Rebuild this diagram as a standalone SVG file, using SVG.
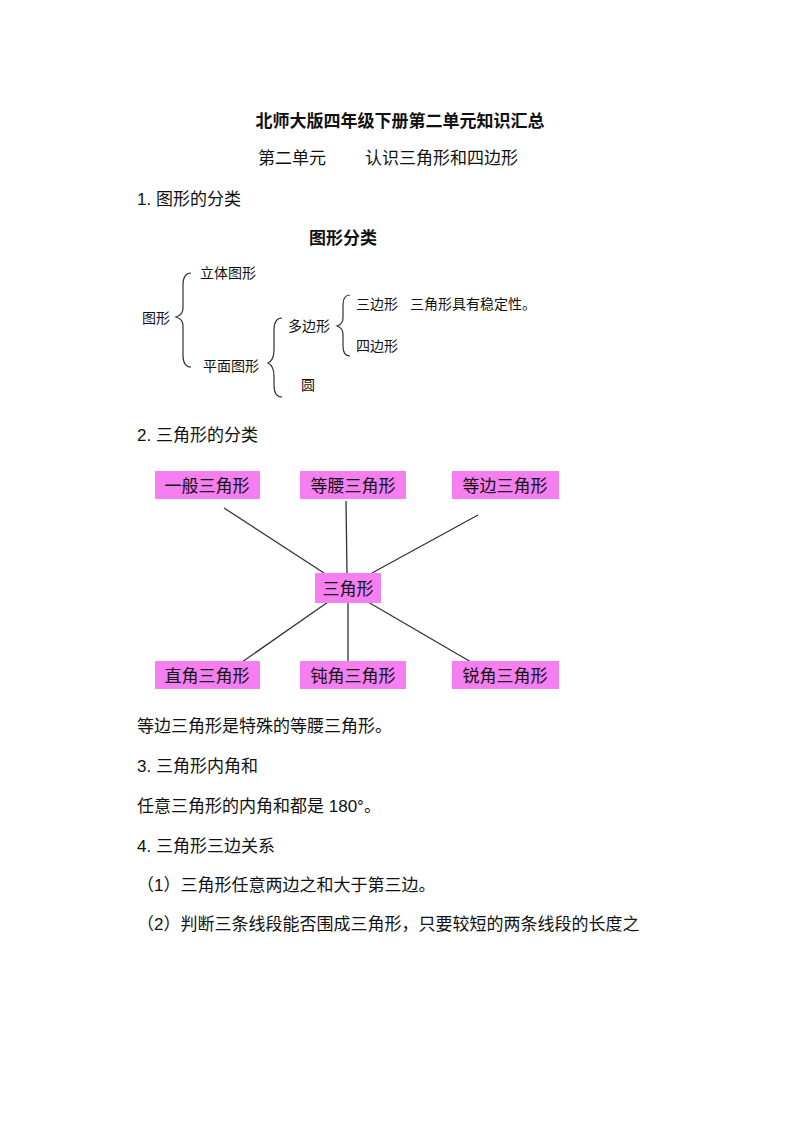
<svg xmlns="http://www.w3.org/2000/svg" width="800" height="1132" viewBox="0 0 800 1132">
<style>
text{font-family:"Liberation Sans","Noto Sans CJK SC",sans-serif;fill:#111}
.t{font-size:17px}
.s{font-size:14px}
.b{font-size:17px;font-weight:bold}
.box{fill:#f57ef0}
.br{fill:none;stroke:#333;stroke-width:1.2}
#connectors line{stroke:#333;stroke-width:1.3}
</style>
<rect width="800" height="1132" fill="#fff"/>
<text x="400" y="127" text-anchor="middle" class="b">北师大版四年级下册第二单元知识汇总</text>
<text x="258" y="164" class="t">第二单元</text>
<text x="365" y="164" class="t">认识三角形和四边形</text>
<text x="137" y="205" class="t">1. 图形的分类</text>
<text x="343" y="244" text-anchor="middle" class="t" font-weight="bold">图形分类</text>
<g id="tree">
<text x="142" y="323" class="s">图形</text>
<path class="br" d="M191,273 Q183,273 183,285 L183,308 Q183,315 176,317 Q183,319 183,326 L183,355 Q183,367 191,367"/>
<text x="200" y="278" class="s">立体图形</text>
<text x="203" y="371" class="s">平面图形</text>
<path class="br" d="M282,318 Q274,318 274,330 L274,350 Q274,360 268,363 Q274,366 274,376 L274,385 Q274,397 282,397"/>
<text x="288" y="331" class="s">多边形</text>
<text x="301" y="390" class="s">圆</text>
<path class="br" d="M350,295 Q343,295 343,305 L343,318 Q343,324 337,326 Q343,328 343,334 L343,346 Q343,356 350,356"/>
<text x="356" y="309" class="s">三边形</text>
<text x="410" y="309" class="s">三角形具有稳定性。</text>
<text x="356" y="351" class="s">四边形</text>
</g>
<text x="137" y="441" class="t">2. 三角形的分类</text>
<g id="connectors">
<line x1="224" y1="508" x2="324" y2="573"/>
<line x1="346" y1="501" x2="347" y2="573"/>
<line x1="478" y1="515" x2="372" y2="573"/>
<line x1="328" y1="602" x2="242" y2="662"/>
<line x1="348" y1="603" x2="348" y2="661"/>
<line x1="368" y1="602" x2="471" y2="662"/>
</g>
<g id="n1"><rect class="box" x="155" y="471" width="105" height="28"/><text x="207" y="492" text-anchor="middle" class="t">一般三角形</text></g>
<g id="n2"><rect class="box" x="300" y="471" width="106" height="28"/><text x="353" y="492" text-anchor="middle" class="t">等腰三角形</text></g>
<g id="n3"><rect class="box" x="452" y="471" width="107" height="28"/><text x="505" y="492" text-anchor="middle" class="t">等边三角形</text></g>
<g id="n0"><rect class="box" x="315" y="573" width="66" height="30"/><text x="348" y="595" text-anchor="middle" class="t">三角形</text></g>
<g id="n4"><rect class="box" x="155" y="661" width="105" height="28"/><text x="207" y="682" text-anchor="middle" class="t">直角三角形</text></g>
<g id="n5"><rect class="box" x="300" y="661" width="106" height="28"/><text x="353" y="682" text-anchor="middle" class="t">钝角三角形</text></g>
<g id="n6"><rect class="box" x="452" y="661" width="107" height="28"/><text x="505" y="682" text-anchor="middle" class="t">锐角三角形</text></g>
<text x="137" y="732" class="t">等边三角形是特殊的等腰三角形。</text>
<text x="137" y="772" class="t">3. 三角形内角和</text>
<text x="137" y="812" class="t">任意三角形的内角和都是 180°。</text>
<text x="137" y="852" class="t">4. 三角形三边关系</text>
<text x="137" y="891" class="t">（1）三角形任意两边之和大于第三边。</text>
<text x="137" y="930" class="t">（2）判断三条线段能否围成三角形，只要较短的两条线段的长度之</text>
</svg>
